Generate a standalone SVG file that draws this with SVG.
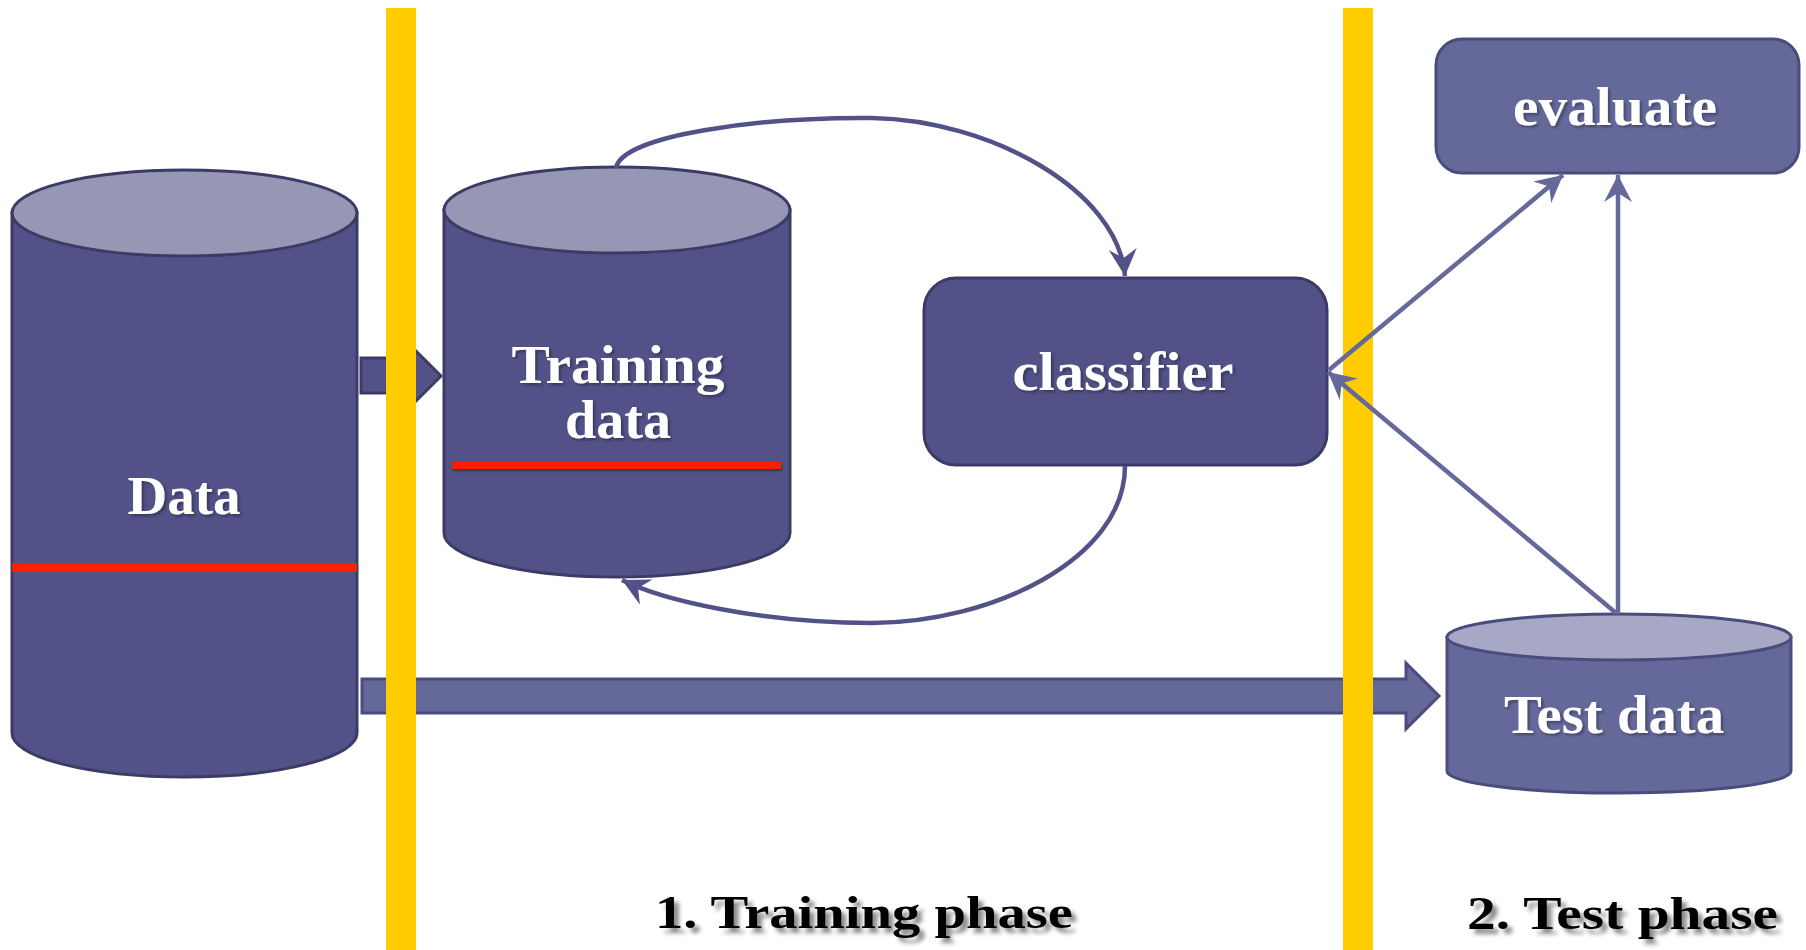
<svg xmlns="http://www.w3.org/2000/svg" width="1806" height="950" viewBox="0 0 1806 950">
<style>
.bg{fill:#ffffff}
.dark{fill:#525288;stroke:#3b3b66;stroke-width:3}
.darktop{fill:#9797b5;stroke:#3b3b66;stroke-width:3}
.light{fill:#65699a;stroke:#4a4c7c;stroke-width:3}
.lighttop{fill:#a6a8c5;stroke:#4a4c7c;stroke-width:3}
.bar{fill:#ffcc00}
.lbl{font-family:"Liberation Serif","Times New Roman",serif;font-weight:bold;font-size:55px;fill:#ffffff;text-anchor:middle}
.phase{font-family:"Liberation Serif","Times New Roman",serif;font-weight:bold;font-size:46px;fill:#000000}
.curve{fill:none;stroke:#525288;stroke-width:4.5}
.line{fill:none;stroke:#65699a;stroke-width:4.5}
.red{fill:#ff1e00}
</style>
<defs>
<marker id="ahDark" markerUnits="userSpaceOnUse" markerWidth="28" markerHeight="28" refX="27" refY="14" orient="auto" viewBox="0 0 28 28">
<path d="M0,0 L27,14 L0,28 L9,14 Z" fill="#525288"/>
</marker>
<marker id="ahLight" markerUnits="userSpaceOnUse" markerWidth="28" markerHeight="28" refX="27" refY="14" orient="auto" viewBox="0 0 28 28">
<path d="M0,0 L27,14 L0,28 L9,14 Z" fill="#65699a"/>
</marker>
<filter id="tshadow" x="-10%" y="-20%" width="130%" height="160%">
<feGaussianBlur in="SourceAlpha" stdDeviation="2"/>
<feOffset dx="5" dy="5" result="b"/>
<feFlood flood-color="#000000" flood-opacity="0.45"/>
<feComposite in2="b" operator="in" result="s"/>
<feMerge><feMergeNode in="s"/><feMergeNode in="SourceGraphic"/></feMerge>
</filter>
<filter id="wshadow" x="-10%" y="-20%" width="130%" height="160%">
<feGaussianBlur in="SourceAlpha" stdDeviation="1.5"/>
<feOffset dx="2" dy="2" result="b"/>
<feFlood flood-color="#000000" flood-opacity="0.35"/>
<feComposite in2="b" operator="in" result="s"/>
<feMerge><feMergeNode in="s"/><feMergeNode in="SourceGraphic"/></feMerge>
</filter>
<filter id="rshadow" x="-5%" y="-100%" width="110%" height="400%">
<feGaussianBlur in="SourceAlpha" stdDeviation="1.5"/>
<feOffset dx="1" dy="2" result="b"/>
<feFlood flood-color="#000000" flood-opacity="0.4"/>
<feComposite in2="b" operator="in" result="s"/>
<feMerge><feMergeNode in="s"/><feMergeNode in="SourceGraphic"/></feMerge>
</filter>
</defs>
<rect class="bg" x="0" y="0" width="1806" height="950"/>

<g id="node-data">
<path class="dark" d="M12,213 L12,733 A172.5,44 0 0 0 357,733 L357,213 Z"/>
<ellipse class="darktop" cx="184.5" cy="213" rx="172.5" ry="43"/>
<rect class="red" x="12" y="563" width="345" height="9"/>
<text class="lbl" x="184" y="514" textLength="113" lengthAdjust="spacingAndGlyphs" filter="url(#wshadow)">Data</text>
</g>

<g id="node-training-data">
<path class="dark" d="M444,210 L444,533 A173,44 0 0 0 790,533 L790,210 Z"/>
<ellipse class="darktop" cx="617" cy="210" rx="173" ry="43"/>
<rect class="red" x="452" y="462" width="329" height="7" filter="url(#rshadow)"/>
<text class="lbl" x="618" y="383" textLength="213" lengthAdjust="spacingAndGlyphs" filter="url(#wshadow)">Training</text>
<text class="lbl" x="618" y="438" textLength="106" lengthAdjust="spacingAndGlyphs" filter="url(#wshadow)">data</text>
</g>

<g id="node-classifier">
<rect class="dark" x="924" y="278" width="403" height="187" rx="32" ry="32"/>
<text class="lbl" x="1123" y="390" textLength="221" lengthAdjust="spacingAndGlyphs" filter="url(#wshadow)">classifier</text>
</g>

<g id="node-evaluate">
<rect class="light" x="1436" y="39" width="363" height="134" rx="26" ry="26"/>
<text class="lbl" x="1615" y="125" textLength="204" lengthAdjust="spacingAndGlyphs" filter="url(#wshadow)">evaluate</text>
</g>

<g id="node-test-data">
<path class="light" d="M1447,637 L1447,771 A172,22 0 0 0 1791,771 L1791,637 Z"/>
<ellipse class="lighttop" cx="1619" cy="637" rx="172" ry="23"/>
<text class="lbl" x="1614" y="733" textLength="220" lengthAdjust="spacingAndGlyphs" filter="url(#wshadow)">Test data</text>
</g>

<g id="connectors">
<path class="dark" d="M361,358 L414,358 L414,349 L441,376 L414,403 L414,393 L361,393 Z" stroke-width="2.5"/>
<path class="light" d="M362,679 L1406,679 L1406,663 L1439,696 L1406,729 L1406,713 L362,713 Z" stroke-width="2.5"/>
</g>

<g id="phase-bars">
<rect class="bar" x="386" y="8" width="30" height="942"/>
<rect class="bar" x="1343" y="8" width="30" height="942"/>
</g>

<g id="connectors-lines">
<path class="curve" d="M616,168 C622,135 760,117 872,118 C990,120 1118,190 1125,276" marker-end="url(#ahDark)"/>
<path class="curve" d="M1125,466 C1125,560 990,623 872,623 C760,623 662,600 622,580" marker-end="url(#ahDark)"/>
<path class="line" d="M1618,614 L1618,175" marker-end="url(#ahLight)"/>
<path class="line" d="M1616,613 L1328,372" marker-end="url(#ahLight)"/>
<path class="line" d="M1329,370 L1563,175" marker-end="url(#ahLight)"/>
</g>

<g id="labels">
<text class="phase" x="655" y="928" textLength="418" lengthAdjust="spacingAndGlyphs" filter="url(#tshadow)">1. Training phase</text>
<text class="phase" x="1467" y="929" textLength="311" lengthAdjust="spacingAndGlyphs" filter="url(#tshadow)">2. Test phase</text>
</g>
</svg>
